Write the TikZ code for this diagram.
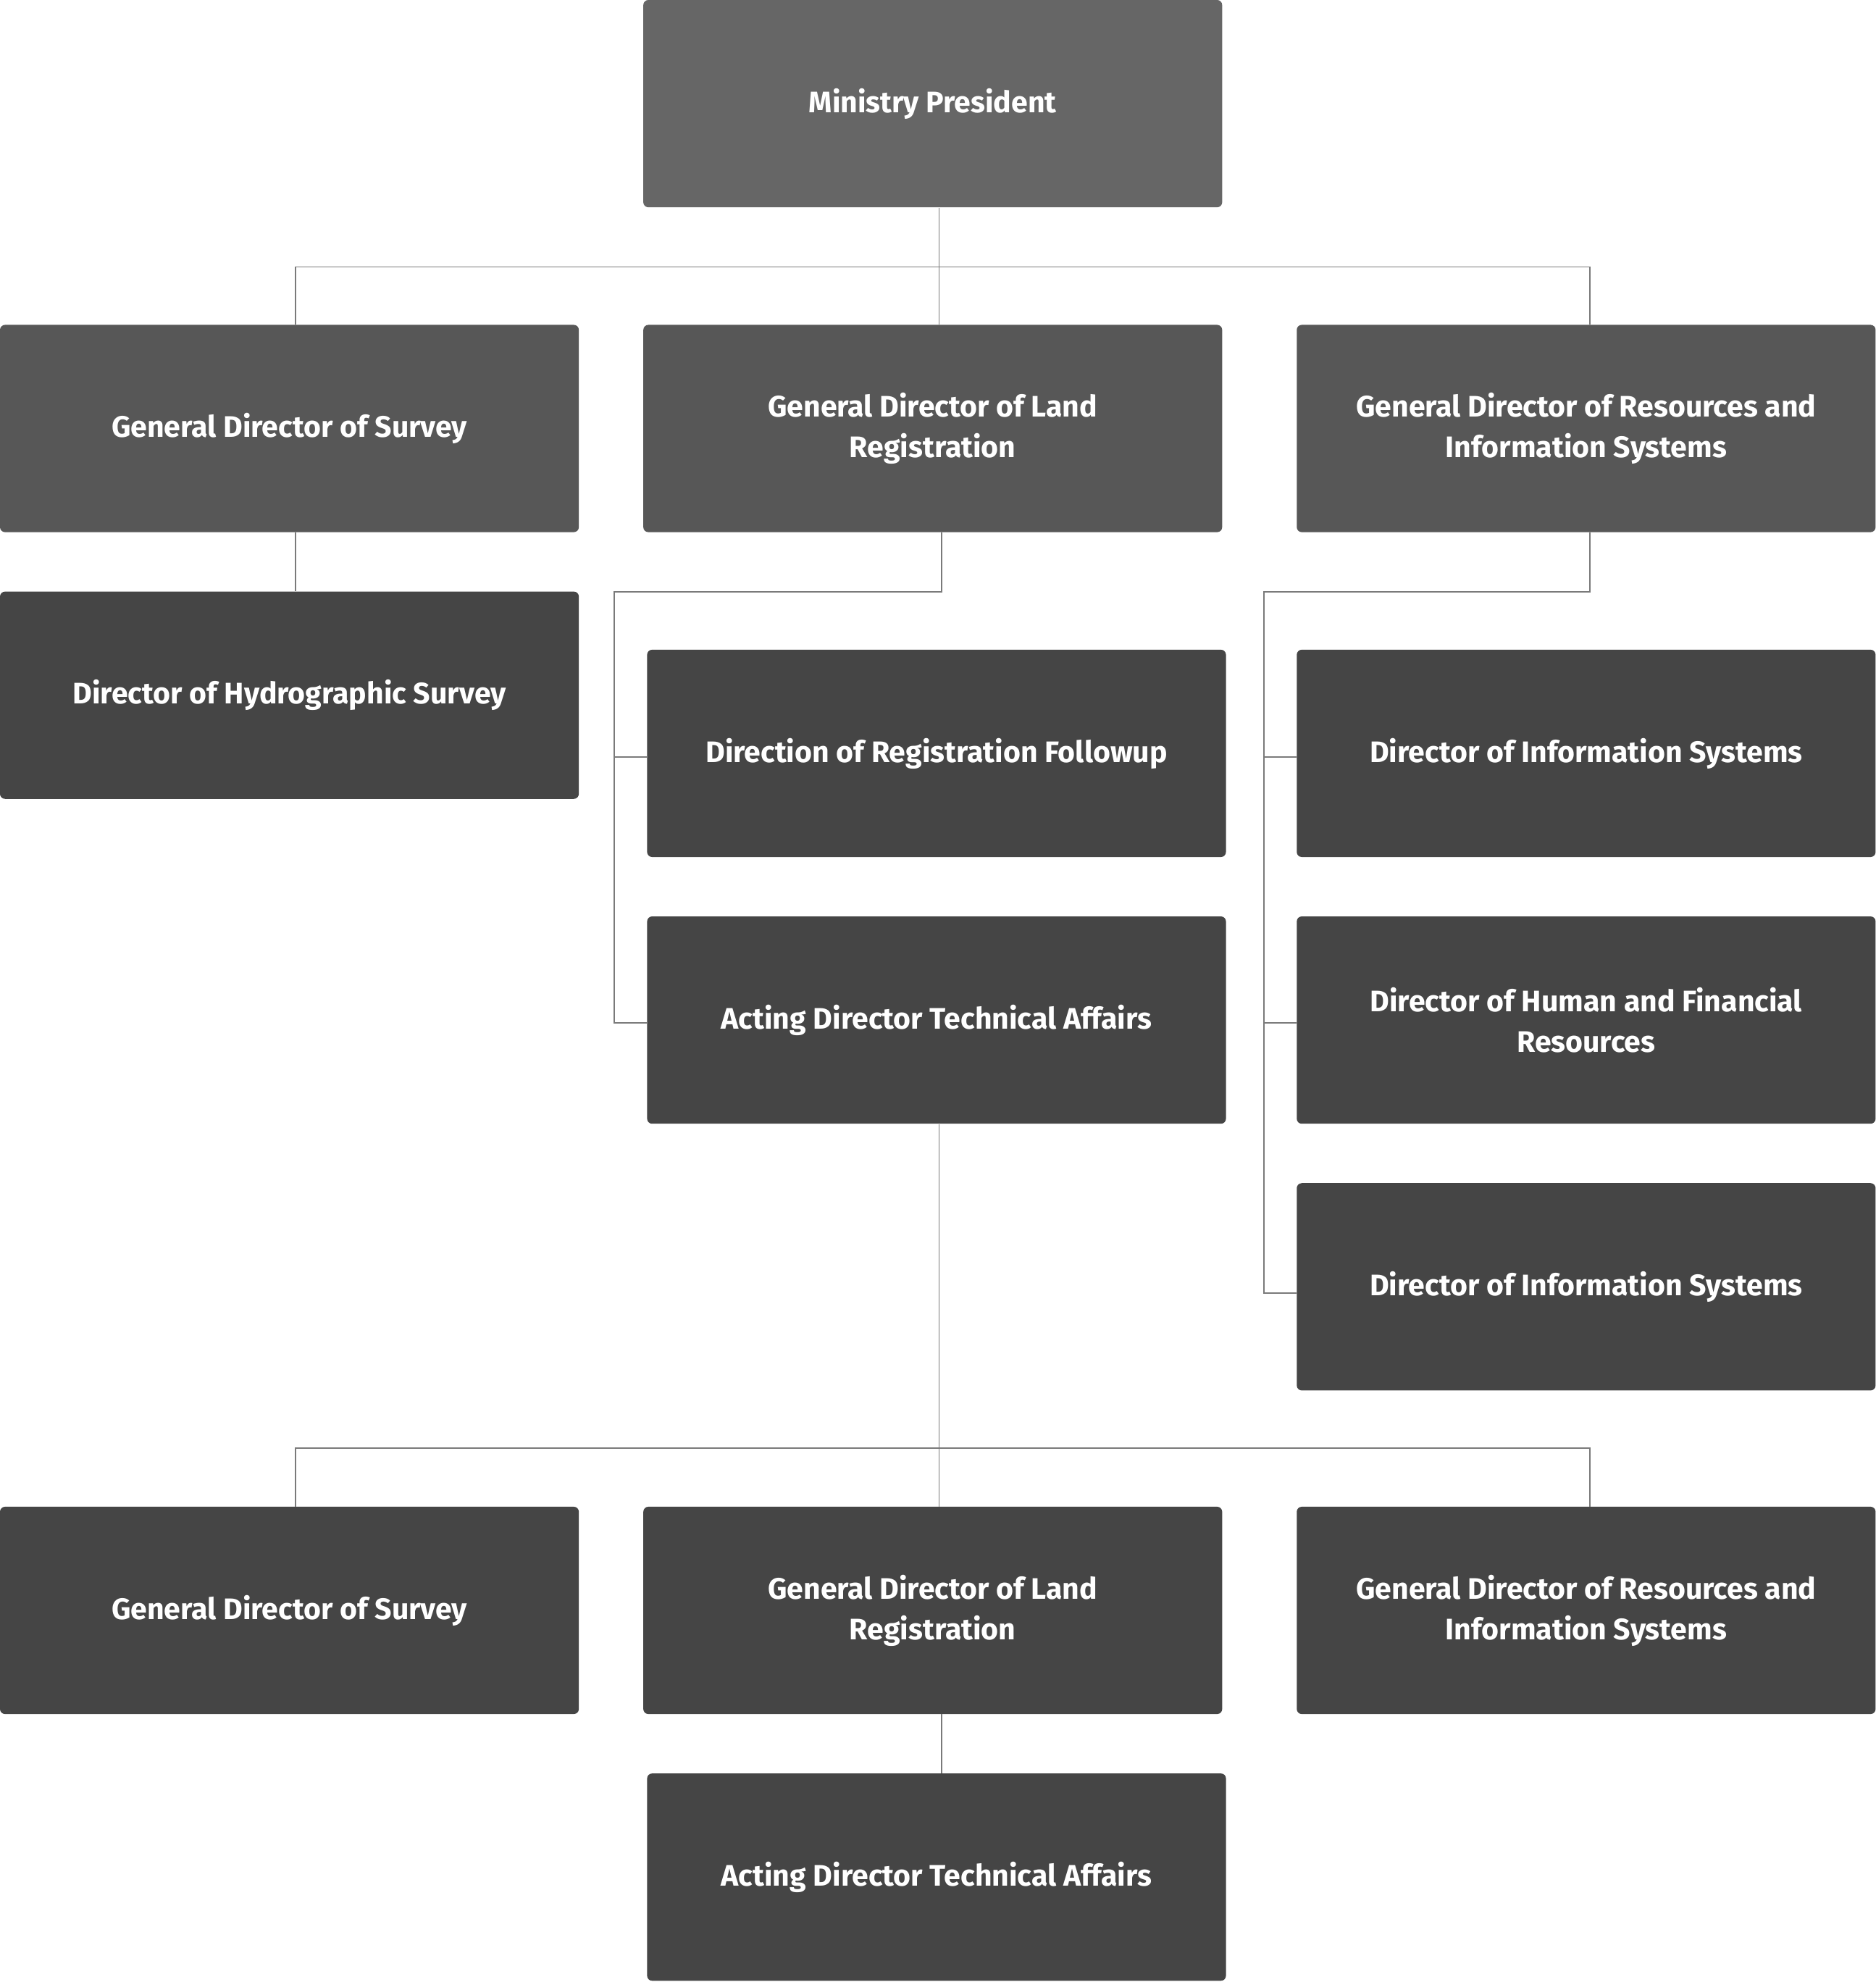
\documentclass[tikz,border=0pt]{standalone}
\usepackage{fontspec}
\setmainfont{Fira Sans}
\usetikzlibrary{positioning,calc}
\definecolor{boxtop}{HTML}{666666}
\definecolor{boxmid}{HTML}{575757}
\definecolor{boxlow}{HTML}{454545}
\definecolor{linkgray}{HTML}{7A7A7A}

\begin{document}
\begin{tikzpicture}[x=1pt, y=-1pt,
    unit/.style={rectangle, rounded corners=4pt, minimum width=458pt, minimum height=164pt,
        inner sep=0pt, text=white, align=center, font=\fontsize{23.5}{32}\selectfont\bfseries},
    top unit/.style={unit, fill=boxtop},
    mid unit/.style={unit, fill=boxmid},
    low unit/.style={unit, fill=boxlow},
    link/.style={draw=linkgray, line width=1.1pt}]

    \useasboundingbox (0,0) rectangle (1484,1568);

    % top and first level
    \node[top unit] (pres) at (738,82) {Ministry President};
    \node[mid unit] (survey) at (229,339) {General Director of Survey};
    \node[mid unit] (landreg) at (738,339) {General Director of Land\\Registration};
    \node[mid unit] (resources) at (1255,339) {General Director of Resources and\\Information Systems};

    % second level
    \node[low unit] (hydro) at (229,550) {Director of Hydrographic Survey};
    \node[low unit] (followup) at (741,596) {Direction of Registration Followup};
    \node[low unit] (acting) at (741,807) {Acting Director Technical Affairs};
    \node[low unit] (infosys) at (1255,596) {Director of Information Systems};
    \node[low unit] (humanfin) at (1255,807) {Director of Human and Financial\\Resources};
    \node[low unit] (infosysb) at (1255,1018) {Director of Information Systems};

    % lower group
    \node[low unit] (surveyb) at (229,1274) {General Director of Survey};
    \node[low unit] (landregb) at (738,1274) {General Director of Land\\Registration};
    \node[low unit] (resourcesb) at (1255,1274) {General Director of Resources and\\Information Systems};
    \node[low unit] (actingb) at (741,1485) {Acting Director Technical Affairs};

    % connectors
    \coordinate (bus1) at ($(pres.south)+(5,47)$);
    \draw[link] ([xshift=5pt]pres.south) -- ([xshift=5pt]landreg.north);
    \draw[link] ([xshift=5pt]survey.north) |- (bus1) -| ([xshift=3pt]resources.north);
    \draw[link] ([xshift=5pt]survey.south) -- ([xshift=5pt]hydro.north);

    \coordinate (rail2) at ($(followup.west)+(-26,3)$);
    \draw[link] ([xshift=7pt]landreg.south) -- ++(0,47) -| (rail2) |- ([yshift=-2pt]acting.west);
    \draw[link] (rail2) -- (followup.west |- rail2);

    \coordinate (rail3) at ($(infosys.west)+(-26,3)$);
    \draw[link] ([xshift=3pt]resources.south) -- ++(0,47) -| (rail3) |- ([yshift=-5pt]infosysb.west);
    \draw[link] (rail3) -- (infosys.west |- rail3);
    \draw[link] ([yshift=-2pt]humanfin.west) -- ([yshift=-2pt]humanfin.west -| rail3);

    \coordinate (bus4) at ($(landregb.north)+(5,-46)$);
    \draw[link] ([xshift=2pt]acting.south) -- ([xshift=5pt]landregb.north);
    \draw[link] ([xshift=5pt]surveyb.north) |- (bus4) -| ([xshift=3pt]resourcesb.north);
    \draw[link] ([xshift=7pt]landregb.south) -- ([xshift=4pt]actingb.north);
\end{tikzpicture}
\end{document}
